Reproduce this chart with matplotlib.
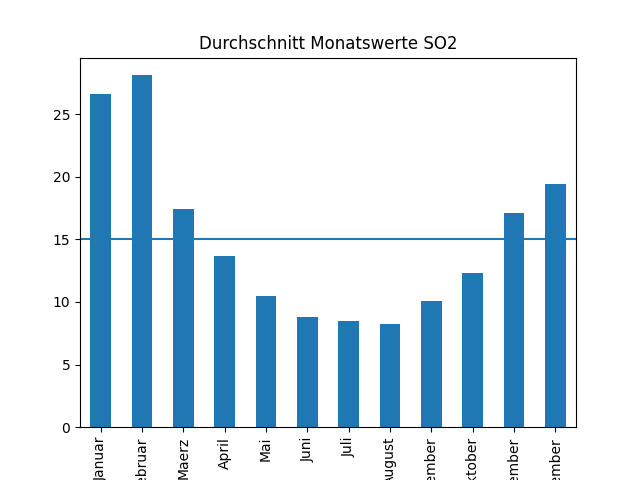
import matplotlib

matplotlib.use('Agg')
import matplotlib.pyplot as plt
import pandas as pd

# monthly averages
months = ['Januar', 'Februar', 'Maerz', 'April', 'Mai', 'Juni', 'Juli',
          'August', 'September', 'Oktober', 'November', 'Dezember']
so2_mean = [26.6, 28.1, 17.4, 13.7, 10.5, 8.8, 8.5, 8.2, 10.1, 12.3, 17.1, 19.4]
threshold = 15

df = pd.DataFrame({'SO2': so2_mean}, index=months)

fig = plt.figure(figsize=(6.4, 4.8), dpi=100)
ax = df['SO2'].plot(kind='bar', color='#1f77b4')
ax.axhline(threshold, color='#1f77b4')
ax.set_title('Durchschnitt Monatswerte SO2')
plt.savefig('out.png', dpi=100)
plt.close()
